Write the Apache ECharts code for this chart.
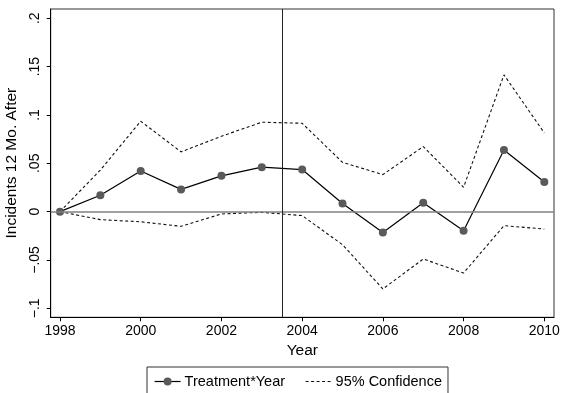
<!DOCTYPE html>
<html>
<head>
<meta charset="utf-8">
<script src="https://cdn.jsdelivr.net/npm/echarts@6/dist/echarts.min.js"></script>
<style>html,body{margin:0;padding:0;background:#fff}#c{width:562px;height:393px}</style>
</head>
<body>
<div id="c"></div>
<script>
var years = [1998,1999,2000,2001,2002,2003,2004,2005,2006,2007,2008,2009,2010];
var treatment = [0,0.017,0.042,0.023,0.037,0.046,0.0435,0.0085,-0.0215,0.0093,-0.0197,0.0638,0.0307];
var upperCI = [0,0.043,0.0935,0.0618,0.078,0.0925,0.0914,0.051,0.0383,0.0673,0.0252,0.1415,0.0814];
var lowerCI = [0,-0.0083,-0.0105,-0.0152,-0.0024,-0.0007,-0.0041,-0.0342,-0.080,-0.049,-0.0635,-0.0145,-0.018];
var xTicks = [1998,2000,2002,2004,2006,2008,2010];
var yTicks = [-0.1,-0.05,0,0.05,0.1,0.15,0.2];
var yTickLabels = ['\u2212.1','\u2212.05','0','.05','.1','.15','.2'];
var treatYear = 2003.5;

function pairs(v){ return years.map(function(y,i){ return [y, v[i]]; }); }
function yLabel(val){
  for (var i=0;i<yTicks.length;i++){ if (Math.abs(yTicks[i]-val)<1e-6) return yTickLabels[i]; }
  return '';
}
var font = 'Liberation Sans, Arial, sans-serif';
var chart = echarts.init(document.getElementById('c'), null, {renderer:'canvas'});
chart.setOption({
  animation: false,
  backgroundColor: '#fff',
  grid: {left: 50.7, right: 8, top: 9, bottom: 75.7, containLabel: false, outerBoundsMode: 'none',
         show: true, borderColor: '#333', borderWidth: 1, backgroundColor: 'transparent'},
  xAxis: {
    type: 'value', min: 1997.77, max: 2010.24,
    name: 'Year', nameLocation: 'middle', nameGap: 23,
    nameTextStyle: {fontFamily: font, fontSize: 15.5, color: '#000'},
    axisLine: {show: true, onZero: false, lineStyle: {color: '#000', width: 1}},
    axisTick: {show: true, length: 4, lineStyle: {color: '#000'}, customValues: xTicks},
    axisLabel: {show: true, margin: 7, fontFamily: font, fontSize: 14, color: '#000', customValues: xTicks,
                formatter: function(v){ return String(Math.round(v)); }},
    splitLine: {show: false}
  },
  yAxis: {
    type: 'value', min: -0.1093, max: 0.2096,
    name: 'Incidents 12 Mo. After', nameLocation: 'middle', nameGap: 24, nameRotate: 90,
    nameTextStyle: {fontFamily: font, fontSize: 15.5, color: '#000'},
    axisLine: {show: true, onZero: false, lineStyle: {color: '#000', width: 1}},
    axisTick: {show: true, length: 4, lineStyle: {color: '#000'}, customValues: yTicks},
    axisLabel: {show: true, rotate: 90, margin: 9, fontFamily: font, fontSize: 14, color: '#000', customValues: yTicks,
                formatter: yLabel},
    splitLine: {show: false}
  },
  legend: {
    left: 147, top: 367,
    data: [
      {name: 'Treatment*Year', lineStyle: {width: 1.2}},
      {name: '95% Confidence', itemStyle: {opacity: 0}, lineStyle: {width: 1}}
    ],
    orient: 'horizontal',
    borderColor: '#333', borderWidth: 1, borderRadius: 0,
    padding: [7, 6, 7, 7],
    itemWidth: 26, itemHeight: 10, itemGap: 20,
    textStyle: {fontFamily: font, fontSize: 14.5, color: '#000', padding: [0,0,0,-1]}
  },
  series: [
    {
      type: 'line', name: 'refs', data: [], silent: true, z: 1,
      markLine: {
        silent: true, symbol: 'none', label: {show: false}, animation: false,
        data: [
          {yAxis: 0, lineStyle: {color: '#808080', width: 1.5, type: 'solid'}},
          {xAxis: treatYear, lineStyle: {color: '#222', width: 1, type: 'solid'}}
        ]
      }
    },
    {
      type: 'line', name: '95% Confidence', data: pairs(upperCI), symbol: 'none', z: 2,
      lineStyle: {color: '#111', width: 1.1, type: [3, 2.5]}, itemStyle: {color: '#111'}
    },
    {
      type: 'line', name: '95% Confidence', data: pairs(lowerCI), symbol: 'none', z: 2,
      lineStyle: {color: '#111', width: 1.1, type: [3, 2.5]}, itemStyle: {color: '#111'}
    },
    {
      type: 'line', name: 'Treatment*Year', data: pairs(treatment), z: 3,
      symbol: 'circle', symbolSize: 8,
      lineStyle: {color: '#000', width: 1.2},
      itemStyle: {color: '#5a5a5a', borderWidth: 0}
    }
  ]
});
</script>
</body>
</html>
